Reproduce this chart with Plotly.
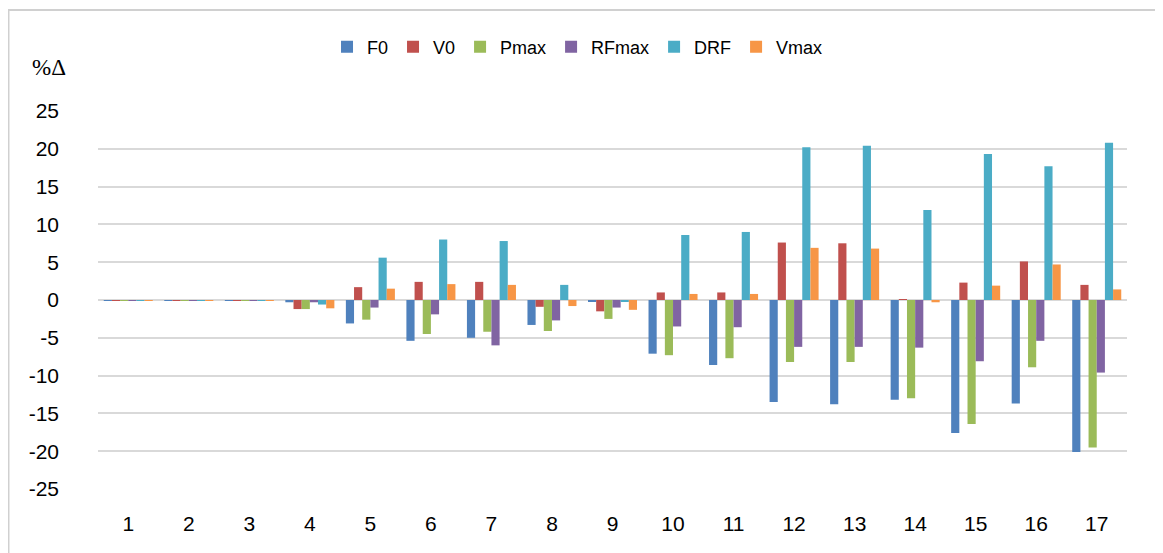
import plotly.graph_objects as go

# categories on the x axis
categories = [str(i) for i in range(1, 18)]

# percentage change per series
f0 = [-0.1, -0.1, -0.1, -0.3, -3.1, -5.4, -5.0, -3.3, -0.2, -7.1, -8.6, -13.5, -13.8, -13.2, -17.6, -13.7, -20.1]
v0 = [-0.1, -0.1, -0.1, -1.2, 1.7, 2.4, 2.4, -0.9, -1.5, 1.0, 1.0, 7.6, 7.5, 0.1, 2.3, 5.1, 2.0]
pmax = [-0.1, -0.1, -0.1, -1.2, -2.6, -4.5, -4.2, -4.1, -2.5, -7.3, -7.7, -8.2, -8.2, -13.0, -16.4, -8.9, -19.5]
rfmax = [-0.1, -0.1, -0.1, -0.3, -1.0, -1.9, -6.0, -2.7, -1.0, -3.5, -3.6, -6.2, -6.2, -6.3, -8.1, -5.4, -9.6]
drf = [-0.1, -0.1, -0.1, -0.6, 5.6, 8.0, 7.8, 2.0, -0.2, 8.6, 9.0, 20.2, 20.4, 11.9, 19.3, 17.7, 20.8]
vmax = [-0.1, -0.1, -0.1, -1.1, 1.5, 2.1, 2.0, -0.8, -1.3, 0.8, 0.8, 6.9, 6.8, -0.3, 1.9, 4.7, 1.4]

# y axis ticks (plain hyphen minus like the original)
y_ticks = [-25, -20, -15, -10, -5, 0, 5, 10, 15, 20, 25]
y_tick_labels = [str(v) for v in y_ticks]

series = [
    ("F0", f0, "#4F81BD"),
    ("V0", v0, "#C0504D"),
    ("Pmax", pmax, "#9BBB59"),
    ("RFmax", rfmax, "#8064A2"),
    ("DRF", drf, "#4BACC6"),
    ("Vmax", vmax, "#F79646"),
]

font_family = "Liberation Sans, Arial, sans-serif"

fig = go.Figure()
for name, values, color in series:
    fig.add_trace(go.Bar(
        x=categories, y=values, name=name,
        marker=dict(color=color, line=dict(width=0)),
    ))

fig.update_layout(
    width=1163, height=553,
    barmode="group", bargap=0.19, bargroupgap=0,
    paper_bgcolor="white", plot_bgcolor="white",
    margin=dict(l=90, r=44, t=103, b=72),
    font=dict(family=font_family, size=21, color="#000000"),
    legend=dict(
        orientation="h", x=0.466, xanchor="center",
        y=1.169, yanchor="middle",
        font=dict(size=18), itemwidth=30, tracegroupgap=0,
    ),
    xaxis=dict(
        showgrid=False, zeroline=False, showline=False,
        ticks="", ticklabelstandoff=20,
    ),
    yaxis=dict(
        range=[-25, 25], tickvals=y_ticks, ticktext=y_tick_labels,
        showgrid=True, gridcolor="#D9D9D9", gridwidth=2,
        zeroline=True, zerolinecolor="#D9D9D9", zerolinewidth=2,
        showline=False, ticks="", ticklabelstandoff=38,
    ),
    annotations=[dict(
        text="%Δ", xref="paper", yref="paper", x=-0.0476, y=1.114,
        xanchor="center", yanchor="middle", showarrow=False,
        font=dict(family="Liberation Serif, serif", size=23),
    )],
    shapes=[dict(
        type="rect", xref="paper", yref="paper",
        x0=-0.087, x1=1.030, y0=-0.25, y1=1.267,
        line=dict(color="#D0D0D0", width=2), fillcolor="rgba(0,0,0,0)",
    )],
)

fig.write_html("out.html")
